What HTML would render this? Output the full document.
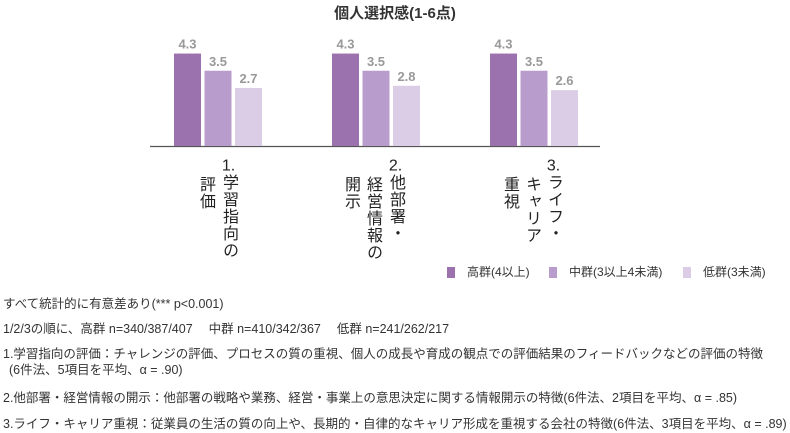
<!DOCTYPE html>
<html><head><meta charset="utf-8">
<style>
body{margin:0;width:790px;height:433px;background:#fff;overflow:hidden;position:relative;font-family:"Liberation Sans","Noto Sans CJK JP",sans-serif;}
.abs{position:absolute;}
.title{left:0;width:790px;top:2px;text-align:center;font-size:15px;font-weight:bold;color:#333;}
.cat{position:absolute;writing-mode:vertical-rl;font-size:16px;color:#222;line-height:16px;letter-spacing:1px;}
.tcu{text-combine-upright:all;}
.leg{position:absolute;font-size:12px;color:#333;top:263px;}
.sw{position:absolute;width:8px;height:11px;top:267px;}
.note{position:absolute;left:3px;font-size:12.5px;color:#333;white-space:nowrap;}
</style></head><body>
<div class="abs title">個人選択感(1-6点)</div>
<svg id="chart" class="abs" style="left:0;top:0" width="790" height="160"></svg>

<div class="cat" style="left:220px;top:158px"><span class="tcu">1.</span>学習指向の</div>
<div class="cat" style="left:197px;top:176px">評価</div>
<div class="cat" style="left:387px;top:158px"><span class="tcu">2.</span>他部署・</div>
<div class="cat" style="left:364px;top:176px">経営情報の</div>
<div class="cat" style="left:342px;top:176px">開示</div>
<div class="cat" style="left:545px;top:158px"><span class="tcu">3.</span>ライフ・</div>
<div class="cat" style="left:523px;top:176px">キャリア</div>
<div class="cat" style="left:501px;top:176px">重視</div>

<div class="sw" style="left:447px;background:#9b72ad"></div>
<div class="leg" style="left:467px">高群(4以上)</div>
<div class="sw" style="left:549px;background:#b89dcc"></div>
<div class="leg" style="left:569px">中群(3以上4未満)</div>
<div class="sw" style="left:683px;background:#dccde6"></div>
<div class="leg" style="left:703px">低群(3未満)</div>

<div class="note" style="top:293px">すべて統計的に有意差あり(*** p&lt;0.001)</div>
<div class="note" style="top:318px">1/2/3の順に、高群 n=340/387/407　 中群 n=410/342/367　 低群 n=241/262/217</div>
<div class="note" style="top:343px">1.学習指向の評価：チャレンジの評価、プロセスの質の重視、個人の成長や育成の観点での評価結果のフィードバックなどの評価の特徴</div>
<div class="note" style="top:359px;left:9px">(6件法、5項目を平均、α = .90)</div>
<div class="note" style="top:387px">2.他部署・経営情報の開示：他部署の戦略や業務、経営・事業上の意思決定に関する情報開示の特徴(6件法、2項目を平均、α = .85)</div>
<div class="note" style="top:413px">3.ライフ・キャリア重視：従業員の生活の質の向上や、長期的・自律的なキャリア形成を重視する会社の特徴(6件法、3項目を平均、α = .89)</div>

<script>
const categories = ["1. 学習指向の評価","2. 他部署・経営情報の開示","3. ライフ・キャリア重視"];
const highValues = [4.3, 4.3, 4.3];
const midValues = [3.5, 3.5, 3.5];
const lowValues = [2.7, 2.8, 2.6];
const seriesNames = ["high","mid","low"];

const NS = "http://www.w3.org/2000/svg";
const svg = document.getElementById('chart');
const baseY = 146, pxPerUnit = 21.5;
const y = v => baseY - v * pxPerUnit;
const groupX = i => 174 + i * 158;
const barW = 27, barStep = 30.5;
const colors = ["#9b72ad","#b89dcc","#dccde6"];
const series = [highValues, midValues, lowValues];

const axis = document.createElementNS(NS,'line');
axis.setAttribute('x1',150);axis.setAttribute('x2',600);
axis.setAttribute('y1',baseY+0.5);axis.setAttribute('y2',baseY+0.5);
axis.setAttribute('stroke','#555');axis.setAttribute('stroke-width',1.2);


svg.appendChild(axis);

categories.forEach((c, i) => {
  series.forEach((vals, s) => {
    const v = vals[i];
    const x = groupX(i) + s * barStep;
    const r = document.createElementNS(NS,'rect');
    r.setAttribute('x', x); r.setAttribute('y', y(v));
    r.setAttribute('width', barW); r.setAttribute('height', baseY - y(v));
    r.setAttribute('fill', colors[s]);
    
    
    svg.appendChild(r);
    const t = document.createElementNS(NS,'text');
    t.setAttribute('x', x + barW/2); t.setAttribute('y', y(v) - 5);
    t.setAttribute('text-anchor','middle');
    t.setAttribute('font-size','13');t.setAttribute('font-weight','bold');
    t.setAttribute('fill','#999');
    t.setAttribute('font-family','Liberation Sans, sans-serif');
    t.textContent = v.toFixed(1);
    
    
    svg.appendChild(t);
  });
});
</script>
</body></html>
